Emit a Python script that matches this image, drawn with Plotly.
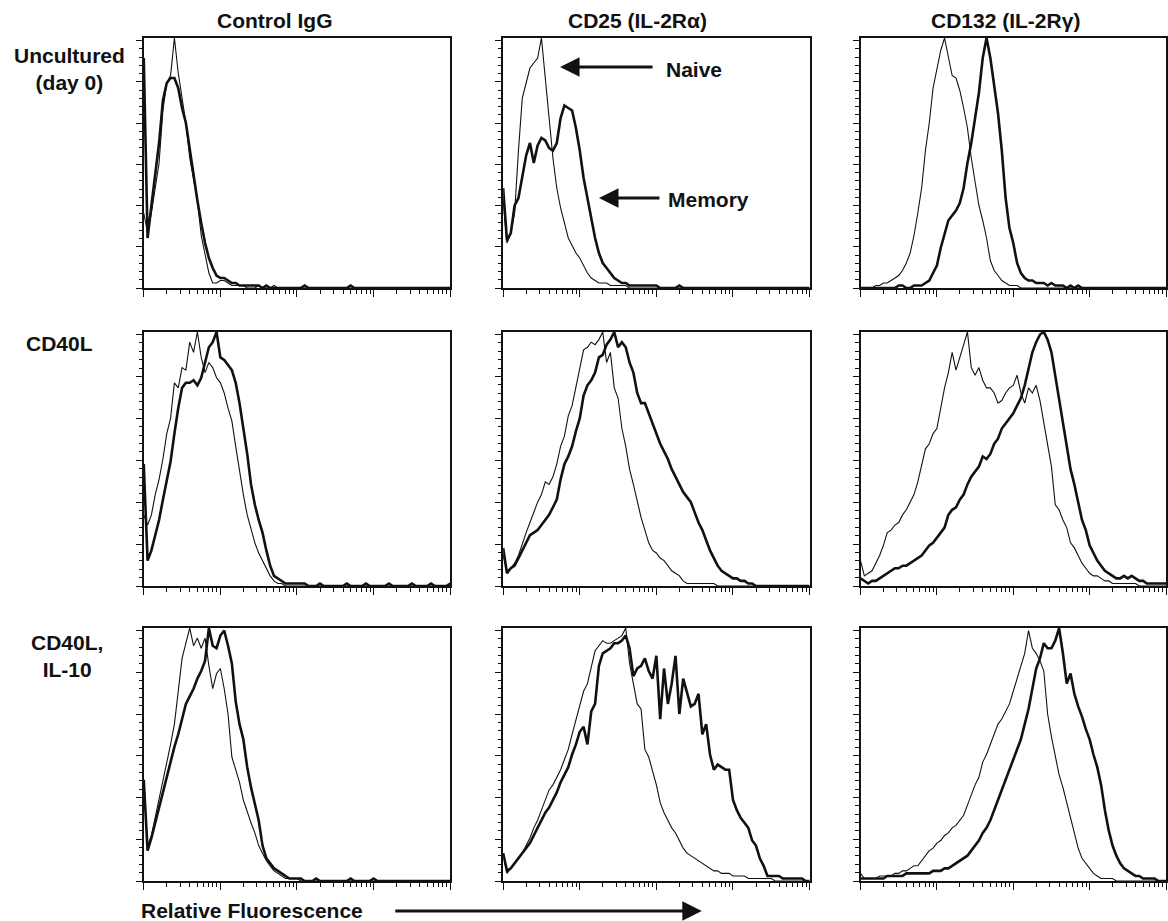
import plotly.graph_objects as go

# ---------------- data ----------------
LOG_STEP = 0.05          # histogram bins, in decades of fluorescence
N_BINS = 81              # 10^0 ... 10^4
CHANNELS = [10 ** (LOG_STEP * i) for i in range(N_BINS)]

COLUMN_TITLES = ["Control IgG", "CD25 (IL-2Rα)", "CD132 (IL-2Rγ)"]
ROW_LABELS = ["Uncultured<br>(day 0)", "CD40L", "CD40L,<br>IL-10"]
AXIS_TITLE = "Relative Fluorescence"
NAIVE_LABEL = "Naive"
MEMORY_LABEL = "Memory"

# percent of max, one value per bin; naive = thin line, memory = thick line
NAIVE_DAY0_IGG = [30,22,30,40,50,71,82,85,100,86,
                  76,66,52,43,35,21,13,6,2,2,
                  3,3,2,1,1,1,1,0,0,0,
                  1,0,0,0,1,0,0,0,0,0,
                  0,0,0,0,0,0,0,0,0,0,
                  0,0,0,0,0,0,0,0,0,0,
                  0,0,0,0,0,0,0,0,0,0,
                  0,0,0,0,0,0,0,0,0,0,
                  0]
MEMORY_DAY0_IGG = [92,20,33,45,58,75,82,84,84,80,
                   72,66,55,44,35,26,18,12,8,5,
                   4,4,3,2,2,1,1,1,1,1,
                   1,0,1,0,0,0,0,0,0,0,
                   0,0,1,0,0,0,0,0,0,0,
                   0,0,0,0,1,0,0,0,0,0,
                   0,0,0,0,0,0,0,0,0,0,
                   0,0,0,0,0,0,0,0,0,0,
                   0]
NAIVE_DAY0_CD25 = [35,18,22,30,55,76,82,88,90,92,
                   100,85,68,52,40,32,26,20,17,14,
                   12,9,6,4,3,2,2,2,1,1,
                   1,1,1,0,0,0,0,0,0,0,
                   0,0,0,0,0,0,0,0,0,0,
                   0,0,0,0,0,0,0,0,0,0,
                   0,0,0,0,0,0,0,0,0,0,
                   0,0,0,0,0,0,0,0,0,0,
                   0]
MEMORY_DAY0_CD25 = [40,19,22,33,36,45,53,58,50,57,
                    60,59,56,55,58,68,73,72,71,64,
                    55,44,36,28,20,14,10,8,6,4,
                    3,2,2,1,1,1,1,1,1,1,
                    1,0,0,0,0,0,1,0,0,0,
                    0,0,0,0,0,0,0,0,0,0,
                    0,0,0,0,0,0,0,0,0,0,
                    0,0,0,0,0,0,0,0,0,0,
                    0]
NAIVE_DAY0_CD132 = [0,0,0,0,1,1,2,2,3,4,
                    5,7,10,14,21,30,40,55,66,80,
                    88,95,100,93,85,84,79,72,64,52,
                    43,33,27,20,11,7,5,3,2,1,
                    1,1,0,0,0,0,0,0,0,0,
                    0,0,0,0,0,0,0,0,0,0,
                    0,0,0,0,0,0,0,0,0,0,
                    0,0,0,0,0,0,0,0,0,0,
                    0]
MEMORY_DAY0_CD132 = [0,0,0,0,0,0,0,0,0,0,
                     1,1,0,0,1,1,1,2,3,6,
                     9,16,22,27,29,31,34,40,50,58,
                     68,78,92,100,92,80,70,55,36,24,
                     18,10,6,4,3,3,2,2,2,1,
                     2,1,1,1,0,1,0,1,0,0,
                     0,0,0,0,0,0,0,0,0,0,
                     0,0,0,0,0,0,0,0,0,0,
                     0]
NAIVE_CD40L_IGG = [28,24,28,36,42,50,60,66,80,78,
                   86,85,96,92,100,90,84,88,86,82,
                   80,76,70,65,55,45,36,28,22,17,
                   13,10,7,4,2,1,1,0,0,0,
                   0,0,0,0,0,0,0,0,0,0,
                   0,0,0,0,0,0,0,0,0,0,
                   0,0,0,0,0,0,0,0,0,0,
                   0,0,0,0,0,0,0,0,0,0,
                   0]
MEMORY_CD40L_IGG = [48,10,14,20,26,34,41,49,60,70,
                    78,80,80,81,79,82,88,94,96,100,
                    90,89,87,85,80,72,62,52,40,32,
                    26,21,14,8,4,3,2,1,1,1,
                    1,1,1,0,0,0,1,0,0,0,
                    0,0,0,1,0,0,0,0,1,0,
                    0,0,0,0,1,0,0,0,0,0,
                    1,0,0,0,0,1,0,0,0,0,
                    1]
NAIVE_CD40L_CD25 = [12,6,7,9,12,17,21,25,29,33,
                    36,41,40,43,48,55,59,67,71,78,
                    86,93,94,96,95,97,100,88,92,78,
                    74,62,55,46,40,33,27,22,17,14,
                    13,11,10,8,6,5,4,2,1,1,
                    1,1,1,1,1,1,0,0,0,0,
                    0,0,0,0,0,0,0,0,0,0,
                    0,0,0,0,0,0,0,0,0,0,
                    0]
MEMORY_CD40L_CD25 = [15,5,7,8,11,14,17,20,21,22,
                     24,26,28,31,34,42,48,51,55,61,
                     66,75,79,81,84,90,91,95,97,100,
                     94,96,94,88,84,76,72,72,68,64,
                     60,56,53,50,46,43,40,37,35,33,
                     29,25,22,18,14,11,8,6,5,4,
                     3,3,2,2,1,1,0,0,0,0,
                     0,0,0,0,0,0,0,0,0,0,
                     0]
NAIVE_CD40L_CD132 = [10,4,5,6,9,12,16,21,22,24,
                     25,28,30,33,36,41,48,54,56,60,
                     62,70,78,84,92,85,90,95,100,86,
                     83,86,81,78,78,76,72,73,76,78,
                     79,83,76,72,78,76,79,73,64,56,
                     47,32,30,26,23,17,15,12,9,7,
                     5,4,4,3,2,2,1,1,1,1,
                     1,1,1,0,0,0,0,0,0,0,
                     0]
MEMORY_CD40L_CD132 = [3,2,1,2,2,3,4,5,6,7,
                      7,8,8,9,10,11,12,14,16,17,
                      19,21,23,28,30,31,34,36,40,43,
                      45,47,51,50,52,56,58,62,64,66,
                      68,71,74,79,86,92,96,99,100,97,
                      92,83,74,65,56,46,40,33,26,22,
                      16,13,10,8,6,5,4,3,3,4,
                      3,4,3,2,2,1,1,1,1,1,
                      1]
NAIVE_IL10_IGG = [40,14,18,25,33,40,46,54,62,75,
                  88,94,100,93,96,92,96,85,76,82,
                  84,76,66,49,44,39,32,27,23,19,
                  14,11,8,6,4,3,2,1,1,1,
                  1,0,0,0,0,0,0,0,0,0,
                  0,0,0,0,0,0,0,0,0,0,
                  0,0,0,0,0,0,0,0,0,0,
                  0,0,0,0,0,0,0,0,0,0,
                  0]
MEMORY_IL10_IGG = [40,12,17,23,29,36,41,48,53,58,
                   64,70,73,76,80,83,87,100,93,92,
                   97,99,93,86,71,62,56,45,37,30,
                   24,14,9,7,5,4,3,2,1,1,
                   1,1,0,0,0,1,0,0,0,0,
                   0,0,0,0,1,0,0,0,0,0,
                   1,0,0,0,0,0,0,0,0,0,
                   0,0,0,0,0,0,0,0,0,0,
                   0]
NAIVE_IL10_CD25 = [11,3,5,7,9,11,14,17,21,24,
                   28,32,36,38,41,44,48,52,58,64,
                   70,75,78,85,91,93,95,94,94,95,
                   96,97,100,86,78,70,68,52,49,44,
                   38,31,27,24,21,19,16,13,11,10,
                   9,8,7,6,5,4,4,3,3,3,
                   2,2,2,2,1,1,1,1,1,1,
                   1,0,0,0,0,0,0,0,0,0,
                   0]
MEMORY_IL10_CD25 = [11,4,5,7,9,11,13,15,18,21,
                    24,27,29,32,35,39,42,45,50,54,
                    59,61,54,67,70,85,90,91,92,94,
                    94,95,97,92,81,84,85,88,83,80,
                    89,64,84,70,78,89,66,80,74,69,
                    70,74,58,62,50,44,46,45,44,44,
                    32,28,25,23,21,16,14,9,6,2,
                    2,2,2,1,1,1,1,1,1,0,
                    0]
NAIVE_IL10_CD132 = [3,1,1,1,1,2,2,2,2,3,
                    3,4,4,5,6,6,8,10,12,13,
                    15,16,18,19,21,22,24,26,30,34,
                    38,41,47,50,54,58,62,64,67,70,
                    75,80,85,90,99,92,90,87,83,66,
                    57,50,42,37,31,25,18,13,9,7,
                    5,3,2,1,1,1,1,0,0,0,
                    0,0,0,0,0,0,0,0,0,0,
                    0]
MEMORY_IL10_CD132 = [1,1,1,1,1,1,1,2,2,2,
                     2,2,3,3,3,3,3,3,3,4,
                     4,4,5,5,6,7,8,9,10,12,
                     14,16,19,21,24,28,32,36,40,44,
                     48,52,56,62,68,76,84,88,94,92,
                     92,95,100,90,78,82,74,69,65,60,
                     56,50,45,38,28,20,14,10,7,5,
                     4,3,2,2,1,1,1,1,0,0,
                     0]

PANELS = [
    [(NAIVE_DAY0_IGG, MEMORY_DAY0_IGG), (NAIVE_DAY0_CD25, MEMORY_DAY0_CD25), (NAIVE_DAY0_CD132, MEMORY_DAY0_CD132)],
    [(NAIVE_CD40L_IGG, MEMORY_CD40L_IGG), (NAIVE_CD40L_CD25, MEMORY_CD40L_CD25), (NAIVE_CD40L_CD132, MEMORY_CD40L_CD132)],
    [(NAIVE_IL10_IGG, MEMORY_IL10_IGG), (NAIVE_IL10_CD25, MEMORY_IL10_CD25), (NAIVE_IL10_CD132, MEMORY_IL10_CD132)],
]

# ---------------- layout geometry (pixels) ----------------
W, H = 1168, 921
COL_PX = [(144, 451), (504, 811), (862, 1168)]
ROW_PX = [(38, 288), (332, 586), (628, 881)]
FONT = "Liberation Sans, Arial, Helvetica, sans-serif"
INK = "#111111"
FS = 21


def px(x):
    return x / W


def py(y):
    return 1 - y / H


fig = go.Figure()
layout = dict(
    width=W, height=H, margin=dict(l=0, r=0, t=0, b=0),
    paper_bgcolor="white", plot_bgcolor="white", showlegend=False,
    font=dict(family=FONT, color=INK),
)

for r in range(3):
    for c in range(3):
        k = r * 3 + c + 1
        xname = "xaxis" if k == 1 else f"xaxis{k}"
        yname = "yaxis" if k == 1 else f"yaxis{k}"
        xref = "x" if k == 1 else f"x{k}"
        yref = "y" if k == 1 else f"y{k}"
        naive, memory = PANELS[r][c]
        fig.add_trace(go.Scatter(x=CHANNELS[:len(naive)], y=naive, mode="lines",
                                 line=dict(color=INK, width=1.1),
                                 xaxis=xref, yaxis=yref, hoverinfo="skip"))
        fig.add_trace(go.Scatter(x=CHANNELS[:len(memory)], y=memory, mode="lines",
                                 line=dict(color=INK, width=2.6),
                                 xaxis=xref, yaxis=yref, hoverinfo="skip"))
        x0, x1 = COL_PX[c]
        y0, y1 = ROW_PX[r]
        layout[xname] = dict(
            type="log", range=[0, 4], domain=[px(x0), px(x1)], anchor=yref,
            showline=True, mirror=True, linecolor=INK, linewidth=1.5,
            ticks="outside", ticklen=7, tickwidth=1.4, tickcolor=INK, dtick=1,
            showticklabels=False, showgrid=False, zeroline=False,
            minor=dict(ticks="outside", ticklen=4, tickwidth=1.1, tickcolor=INK,
                       dtick="D1", showgrid=False),
        )
        layout[yname] = dict(
            range=[0, 100], domain=[py(y1), py(y0)], anchor=xref,
            showline=True, mirror=True, linecolor=INK, linewidth=1.5,
            ticks="outside", ticklen=6, tickwidth=1.3, tickcolor=INK,
            tick0=0, dtick=16.5, showticklabels=False, showgrid=False, zeroline=False,
            minor=dict(ticks="outside", ticklen=3.5, tickwidth=1.0, tickcolor=INK,
                       tick0=0, dtick=3.3, showgrid=False),
        )

annotations = []
TITLE_X = [275, 639, 1007]
for t, xc in zip(COLUMN_TITLES, TITLE_X):
    annotations.append(dict(text=f"<b>{t}</b>", x=px(xc), y=py(20), xref="paper", yref="paper",
                            showarrow=False, xanchor="center", yanchor="middle",
                            font=dict(size=FS, family=FONT, color=INK)))
ROW_LABEL_POS = [(70, 69), (60, 344), (67, 656)]
for t, (xc, yc) in zip(ROW_LABELS, ROW_LABEL_POS):
    annotations.append(dict(text=f"<b>{t}</b>", x=px(xc), y=py(yc), xref="paper", yref="paper",
                            showarrow=False, xanchor="center", yanchor="middle", align="center",
                            font=dict(size=FS, family=FONT, color=INK)))

# pointer labels
annotations.append(dict(text=f"<b>{NAIVE_LABEL}</b>", x=px(665), y=py(69), xref="paper", yref="paper",
                        showarrow=False, xanchor="left", yanchor="middle",
                        font=dict(size=FS, family=FONT, color=INK)))
annotations.append(dict(text=f"<b>{MEMORY_LABEL}</b>", x=px(667), y=py(199), xref="paper", yref="paper",
                        showarrow=False, xanchor="left", yanchor="middle",
                        font=dict(size=FS, family=FONT, color=INK)))
annotations.append(dict(text=f"<b>{AXIS_TITLE}</b>", x=px(139), y=py(910), xref="paper", yref="paper",
                        showarrow=False, xanchor="left", yanchor="middle",
                        font=dict(size=FS, family=FONT, color=INK)))

# arrows (tip position, tail offset in px)
for tip_x, tip_y, tail_dx in [(561, 67, 94), (600, 198, 62), (703, 911, -308)]:
    annotations.append(dict(text="", x=px(tip_x), y=py(tip_y), xref="paper", yref="paper",
                            showarrow=True, ax=tail_dx, ay=0,
                            axref="pixel", ayref="pixel",
                            arrowhead=2, arrowsize=1.3, arrowwidth=3, arrowcolor=INK))

layout["annotations"] = annotations
fig.update_layout(**layout)
fig.write_html("out.html")
